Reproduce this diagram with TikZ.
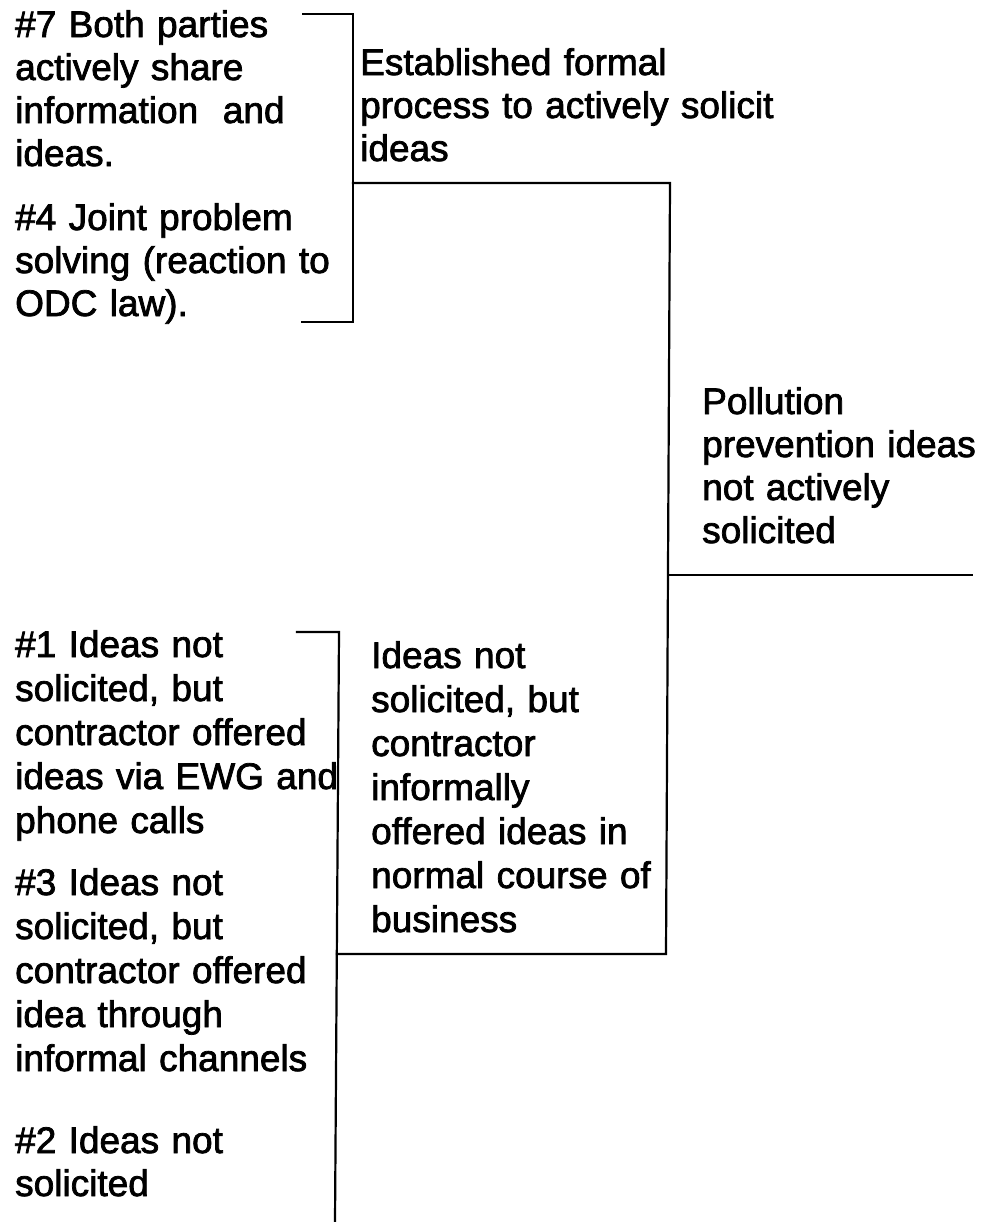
\documentclass[tikz,border=0pt]{standalone}
\usepackage{fontspec}
\setmainfont{Liberation Sans}[FakeBold=2]
\begin{document}
\begin{tikzpicture}[x=1pt,y=-1pt,
  txt/.style={anchor=north west, inner sep=0pt, align=left, text width=600pt,
              font=\fontsize{37}{#1}\selectfont},
  txt/.default=43,
  rule/.style={line width=2.2pt, line cap=rect, line join=miter}]
\fill[white] (0,0) rectangle (981,1222);
\useasboundingbox (0,0) rectangle (981,1222);

% ---- labels (each node top = first baseline - 27) ----
\node[txt] (t7)  at (15,10)   {\#7 Both parties\\ actively share\\ information\ \ and\\ ideas.};
\node[txt] (t4)  at (15,203)  {\#4 Joint problem\\ solving (reaction to\\ ODC law).};
\node[txt=43] (est) at (360,48)  {Established formal\\ process to actively solicit\\ ideas};
\node[txt] (pol) at (702,387) {Pollution\\ prevention ideas\\ not actively\\ solicited};
\node[txt=44] (t1)  at (15,630)  {\#1 Ideas not\\ solicited, but\\ contractor offered\\ ideas via EWG and\\ phone calls};
\node[txt=44] (t3)  at (15,868)  {\#3 Ideas not\\ solicited, but\\ contractor offered\\ idea through\\ informal channels};
\node[txt] (t2)  at (15,1126) {\#2 Ideas not\\ solicited};
\node[txt=44] (inf) at (371,641) {Ideas not\\ solicited, but\\ contractor\\ informally\\ offered ideas in\\ normal course of\\ business};

% ---- bracket corners ----
\coordinate (a1) at (303,14);
\coordinate (a2) at (353,14);
\coordinate (a3) at (353,322);
\coordinate (a4) at (302,322);
\coordinate (j1) at (353,183);
\coordinate (j2) at (670,183);
\coordinate (j3) at (666,954);
\coordinate (j4) at (337,954);
\coordinate (p1) at (668,575);
\coordinate (p2) at (972,575);
\coordinate (b1) at (297,632);
\coordinate (b2) at (339,632);
\coordinate (b3) at (335,1222);

% ---- brackets ----
\draw[rule] (a1) -- (a2) -- (a3) -- (a4);
\draw[rule] (j1) -- (j2) -- (j3) -- (j4);
\draw[rule] (p1) -- (p2);
\draw[rule] (b1) -- (b2) -- (b3);
\end{tikzpicture}
\end{document}
